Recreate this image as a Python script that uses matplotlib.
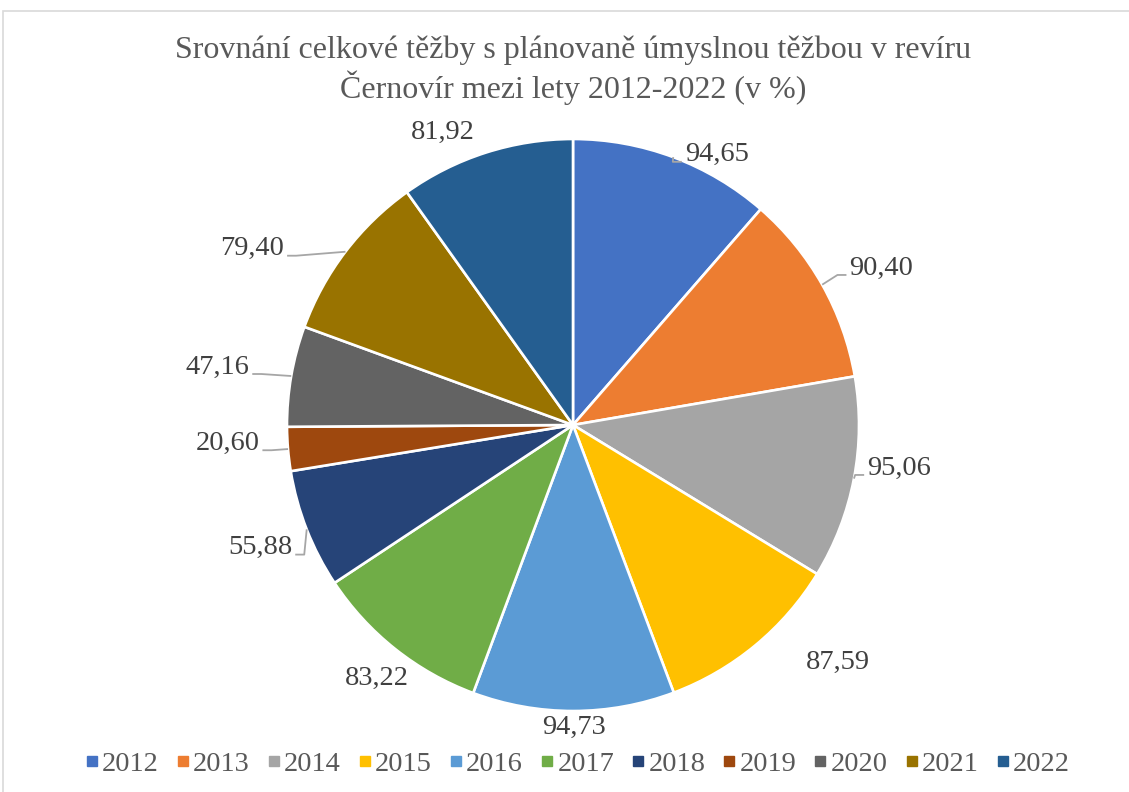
import numpy as np
import matplotlib.pyplot as plt
from matplotlib.lines import Line2D
from matplotlib.patches import Rectangle

years = ['2012', '2013', '2014', '2015', '2016', '2017', '2018', '2019', '2020', '2021', '2022']
values = [94.65, 90.40, 95.06, 87.59, 94.73, 83.22, 55.88, 20.60, 47.16, 79.40, 81.92]
colors = ['#4472C4', '#ED7D31', '#A5A5A5', '#FFC000', '#5B9BD5', '#70AD47',
          '#264478', '#9E480E', '#636363', '#997300', '#255E91']

# label placement (radius factor, angle shift in degrees, has leader line)
lab_r = [1.07, 1.21, 1.15, 1.245, 1.056, 1.12, 1.175, 1.21, 1.26, 1.28, 1.12]
lab_dt = [7.5, 2.4, -3.3, -8.5, 0, -0.7, 0, 1.8, -0.6, -8.5, -6.2]
leader = [True, True, True, False, False, False, True, True, True, True, False]


def main():
    plt.rcParams['font.family'] = ['Liberation Serif', 'DejaVu Serif']
    W, H = 1129, 792
    fig = plt.figure(figsize=(W / 100, H / 100), dpi=100)
    ax = fig.add_axes([0, 0, 1, 1])

    cx, cy, R = 573, H - 425, 286
    ax.pie(values, colors=colors, startangle=90, counterclock=False,
           center=(cx, cy), radius=R,
           wedgeprops=dict(edgecolor='white', linewidth=1.9))
    ax.set_xlim(0, W)
    ax.set_ylim(0, H)
    ax.set_aspect('equal')
    ax.axis('off')

    # outer chart border (right and bottom edges fall outside the picture)
    fig.patches.append(Rectangle((3 / W, -0.1), 1.2, 1.1 - 11 / H, transform=fig.transFigure,
                                 fill=False, edgecolor='#d9d9d9', linewidth=1.2))

    v = np.array(values)
    cum = np.cumsum(v)
    mids = (cum - v / 2) / v.sum() * 360.0

    texts = []
    for i, val in enumerate(values):
        th = np.radians(mids[i] + lab_dt[i])
        tx = cx + R * lab_r[i] * np.sin(th)
        ty = cy + R * lab_r[i] * np.cos(th)
        t = ax.text(tx, ty, f'{val:.2f}'.replace('.', ','), ha='center', va='center',
                    fontsize=20.5, color='#404040')
        texts.append(t)

    fig.canvas.draw()
    for i, t in enumerate(texts):
        if not leader[i]:
            continue
        th = np.radians(mids[i])
        ax_ = cx + R * np.sin(th)
        ay_ = cy + R * np.cos(th)
        bb = t.get_window_extent()
        tx, ty = t.get_position()
        side = 1 if tx > cx else -1
        ex = tx - side * (bb.width / 2 + 3)
        ey = ty - 7
        bx = ex - side * 9
        ax.plot([ax_, bx, ex], [ay_, ey, ey], color='#a6a6a6', linewidth=1.3,
                solid_capstyle='butt')

    fig.text(0.508, 1 - 50 / H, 'Srovnání celkové těžby s plánovaně úmyslnou těžbou v revíru',
             ha='center', va='center', fontsize=23, color='#595959')
    fig.text(0.508, 1 - 88 / H, 'Černovír mezi lety 2012-2022 (v %)',
             ha='center', va='center', fontsize=23, color='#595959')

    handles = [Line2D([], [], marker='s', linestyle='none', markersize=7,
                      markerfacecolor=c, markeredgecolor=c) for c in colors]
    fig.legend(handles, years, loc='center', bbox_to_anchor=(0.512, 1 - 764 / H),
               ncol=11, frameon=False, fontsize=20.5, handlelength=0.4,
               handletextpad=0.15, columnspacing=0.65, labelcolor='#595959')

    plt.savefig('out.png', dpi=100)


if __name__ == '__main__':
    main()
